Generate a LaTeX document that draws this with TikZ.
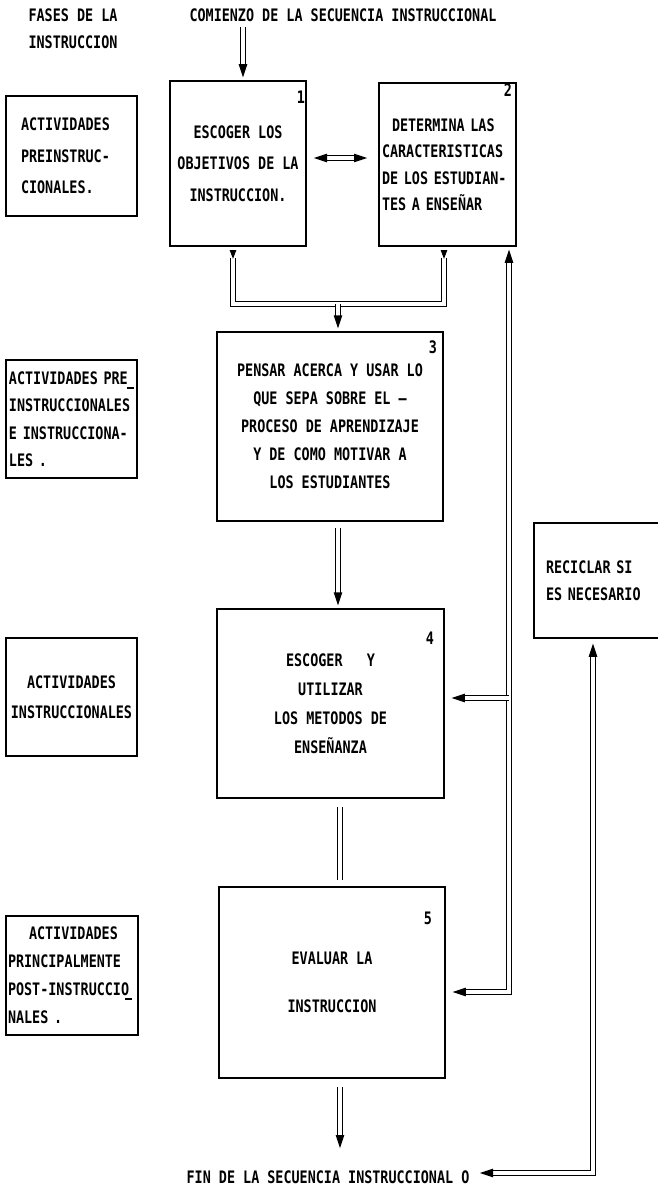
\documentclass[tikz,border=0pt]{standalone}
\usepackage{fontspec}
\usetikzlibrary{calc}
\newfontfamily\tw[FakeStretch=0.78]{DejaVu Sans Mono}
\newcommand\tfont[1]{\tw\bfseries\fontsize{8.6pt}{#1}\selectfont}
\begin{document}
\begin{tikzpicture}[x=0.5pt,y=-0.5pt,
  box/.style={draw, line width=0.75pt, inner sep=0pt, align=center},
  lbl/.style={inner sep=0pt, align=center},
  num/.style={inner sep=0pt, font=\tfont{10pt}},
  dbl/.style={double, double distance=1.6pt, line width=0.5pt},
  hdash/.style={line width=0.9pt},
  ahead/.pic={\fill (0.6pt,0) -- (-6pt,2.2pt) -- (-6pt,-2.2pt) -- cycle;},
  shead/.pic={\fill (0.4pt,0) -- (-4pt,1.7pt) -- (-4pt,-1.7pt) -- cycle;}
]
\useasboundingbox (0,0) rectangle (658,1188);

% ---- titles
\node[lbl, font=\tfont{13.5pt}] (fases) at (73,28.5) {FASES DE LA\\INSTRUCCION};
\node[lbl, font=\tfont{14pt}] (comienzo) at (343,15) {COMIENZO DE LA SECUENCIA INSTRUCCIONAL};
\node[lbl, font=\tfont{14pt}] (fin) at (328,1177) {FIN DE LA SECUENCIA INSTRUCCIONAL O};

% ---- left column (phases)
\node[box, minimum width=65.5pt, minimum height=60pt, text width=50.5pt, align=left, font=\tfont{15.75pt}] (pa) at (71.5,156) {ACTIVIDADES\\PREINSTRUC-\\CIONALES.};
\node[box, minimum width=65.5pt, minimum height=59pt, text width=62.5pt, align=left, font=\tfont{13.75pt}] (pb) at (71.5,419) {ACTIVIDADES PRE\\INSTRUCCIONALES\\E INSTRUCCIONA-\\LES .};
\node[box, minimum width=65.5pt, minimum height=59pt, font=\tfont{15pt}] (pc) at (71.5,697) {ACTIVIDADES\\INSTRUCCIONALES};
\node[box, minimum width=66pt, minimum height=59.5pt, text width=64pt, align=left, font=\tfont{14pt}] (pd) at (72,975.5) {\hspace*{10.5pt}ACTIVIDADES\\PRINCIPALMENTE\\POST-INSTRUCCIO\\NALES .};
% typewriter over-strike marks
\draw[hdash] (127,388) -- (134,388);
\draw[hdash] (125,999) -- (132,999);

% ---- main boxes
\node[box, minimum width=68pt, minimum height=82.5pt, font=\tfont{15.75pt}] (b1) at (238,163.5) {ESCOGER LOS\\OBJETIVOS DE LA\\INSTRUCCION.};
\node[box, minimum width=68.5pt, minimum height=81.5pt, text width=65.5pt, align=left, font=\tfont{13.25pt}] (b2) at (447.5,164.5) {\hspace*{5pt}DETERMINA LAS\\CARACTERISTICAS\\DE LOS ESTUDIAN-\\TES A ENSEÑAR};
\node[box, minimum width=113pt, minimum height=94.5pt, font=\tfont{14pt}] (b3) at (330,426.5) {PENSAR ACERCA Y USAR LO\\QUE SEPA SOBRE EL –\\PROCESO DE APRENDIZAJE\\Y DE COMO MOTIVAR A\\LOS ESTUDIANTES};
\node[box, minimum width=113.5pt, minimum height=94.5pt, font=\tfont{14.5pt}] (b4) at (330.5,703.5) {ESCOGER~~~Y\\UTILIZAR\\LOS METODOS DE\\ENSEÑANZA};
\node[box, minimum width=113pt, minimum height=95.5pt, font=\tfont{24pt}] (b5) at (332,982.5) {EVALUAR LA\\INSTRUCCION};
\node[box, minimum width=68pt, minimum height=57.5pt, text width=56pt, align=left, font=\tfont{13.5pt}] (rec) at (602,580.5) {RECICLAR SI\\ES NECESARIO};

% ---- numbers
\node[num] (n1) at (301,97) {1};
\node[num] (n2) at (508,90) {2};
\node[num] (n3) at (433,347) {3};
\node[num] (n4) at (430,638) {4};
\node[num] (n5) at (428,918) {5};

% ---- helper coordinates
\coordinate (xs) at (243,0);
\coordinate (xc) at (338,0);
\coordinate (xm) at (340,0);
\coordinate (xf) at (509,0);
\coordinate (xr) at (593,0);

% start arrow
\coordinate (s0) at (243,27);
\coordinate (t0) at ([yshift=2pt]b1.north -| xs);
\draw[dbl, shorten >=5pt] (s0) -- (t0);
\pic[rotate=-90] at (t0) {ahead};

% double arrow between 1 and 2
\coordinate (d1) at (315,158);
\coordinate (d2) at (366,158);
\draw[dbl, shorten <=5pt, shorten >=5pt] (d1) -- (d2);
\pic[rotate=180] at (d1) {ahead};
\pic at (d2) {ahead};

% bracket from 1 and 2 to 3
\coordinate (u1) at (233,258);
\coordinate (u2) at (444,258);
\coordinate (j) at (338,304);
\draw[dbl] (u1) -- (u1 |- j) -- (u2 |- j) -- (u2);
\pic[rotate=-90] at (u1) {shead};
\pic[rotate=-90] at (u2) {shead};
\coordinate (t3) at ([yshift=2pt]b3.north -| j);
\draw[dbl, shorten >=5pt] (j) -- (t3);
\pic[rotate=-90] at (t3) {ahead};

% 3 -> 4
\coordinate (a34) at ([yshift=-3pt]b3.south -| xc);
\coordinate (t4) at ([yshift=2pt]b4.north -| xc);
\draw[dbl, shorten >=5pt] (a34) -- (t4);
\pic[rotate=-90] at (t4) {ahead};

% 4 -> 5
\coordinate (a45) at ([yshift=-4pt]b4.south -| xm);
\coordinate (e45) at ([yshift=3pt]b5.north -| xm);
\draw[dbl] (a45) -- (e45);

% 5 -> fin
\coordinate (a5f) at ([yshift=-4pt]b5.south -| xm);
\coordinate (tf) at (340,1147);
\draw[dbl, shorten >=5pt] (a5f) -- (tf);
\pic[rotate=-90] at (tf) {ahead};

% feedback to 2, 4, 5
\coordinate (fbt) at ([yshift=-2pt]b2.south -| xf);
\coordinate (fbb) at (509,992);
\coordinate (t5r) at ([xshift=4pt]b5.east |- fbb);
\draw[dbl, shorten <=5pt, shorten >=5pt] (fbt) -- (fbb) -- (t5r);
\pic[rotate=90] at (fbt) {ahead};
\pic[rotate=180] at (t5r) {ahead};
\coordinate (br4) at (509,698);
\coordinate (t4r) at ([xshift=4pt]b4.east |- br4);
\draw[dbl, shorten >=5pt] (br4) -- (t4r);
\pic[rotate=180] at (t4r) {ahead};

% loop from fin to reciclar
\coordinate (tfin) at (481,1173);
\coordinate (rb) at ([yshift=-3pt]rec.south -| xr);
\draw[dbl, shorten <=5pt, shorten >=5pt] (tfin) -- (tfin -| xr) -- (rb);
\pic[rotate=180] at (tfin) {ahead};
\pic[rotate=90] at (rb) {ahead};
\end{tikzpicture}
\end{document}
